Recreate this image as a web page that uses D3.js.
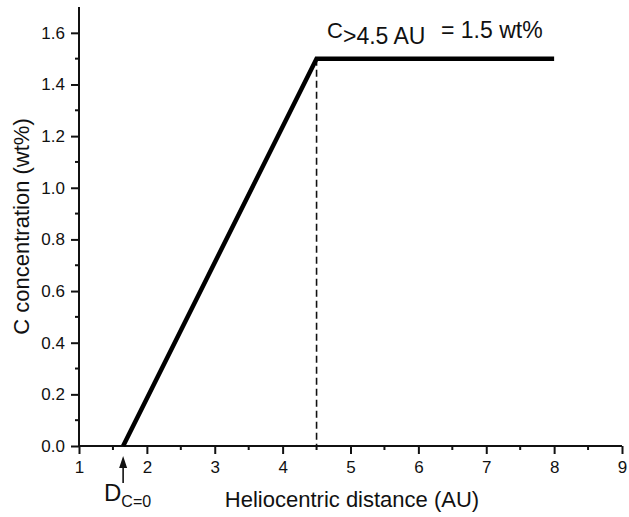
<!DOCTYPE html>
<html>
<head>
<meta charset="utf-8">
<script src="https://cdn.jsdelivr.net/npm/d3@7.9.0/dist/d3.min.js"></script>
<style>
  body { margin: 0; background: #fff; }
  svg text { font-family: "Liberation Sans", Arial, sans-serif; fill: #111; }
</style>
</head>
<body>
<svg id="chart" width="629" height="517"></svg>
<script>
// carbon concentration vs heliocentric distance
const distance = [1.65, 4.5, 8];
const concentration = [0, 1.5, 1.5];
const xTicks = [1, 2, 3, 4, 5, 6, 7, 8, 9];
const yTicks = [0, 0.2, 0.4, 0.6, 0.8, 1.0, 1.2, 1.4, 1.6];
const snowLine = 4.5;
const dZero = 1.65;

const svg = d3.select('#chart');
const margin = { left: 79, right: 6, top: 7, bottom: 71 };
const W = 629, H = 517;

let x = d3.scaleLinear().domain([1, 9]).range([margin.left, W - margin.right - 1]);
let y = d3.scaleLinear().domain([0, 1.7]).range([H - margin.bottom, margin.top]);

// minor ticks
let xMinor = d3.range(1.5, 9, 1);
let yMinor = d3.range(0.1, 1.7, 0.2);

let xAxis = svg.append('g').attr('transform', `translate(0,${y(0)})`)
    .call(d3.axisBottom(x).tickValues(xTicks).tickFormat(d3.format('d')).tickSize(8).tickPadding(7));
xAxis.append('g').selectAll('line').data(xMinor).join('line')
    .attr('x1', d => x(d)).attr('x2', d => x(d)).attr('y1', 0).attr('y2', 4)
    .attr('stroke', '#111').attr('stroke-width', 2);

let yAxis = svg.append('g').attr('transform', `translate(${x(1)},0)`)
    .call(d3.axisLeft(y).tickValues(yTicks).tickFormat(d3.format('.1f')).tickSize(8).tickPadding(6));
yAxis.append('g').selectAll('line').data(yMinor).join('line')
    .attr('y1', d => y(d)).attr('y2', d => y(d)).attr('x1', 0).attr('x2', -4)
    .attr('stroke', '#111').attr('stroke-width', 2);

[xAxis, yAxis].forEach(a => {
    a.select('.domain').attr('stroke', '#111').attr('stroke-width', 2);
    a.selectAll('.tick line').attr('stroke', '#111').attr('stroke-width', 2);
    a.selectAll('.tick text').attr('font-size', 17).attr('fill', '#111')
        .attr('font-family', '"Liberation Sans", Arial, sans-serif');
});
yAxis.select('.domain').attr('d', `M0,${y(0)}V${y(1.7)}`);
xAxis.select('.domain').attr('d', `M${x(1)},0H${x(9)}`);

// dashed drop line
svg.append('line')
    .attr('x1', x(snowLine)).attr('x2', x(snowLine))
    .attr('y1', y(1.5)).attr('y2', y(0))
    .attr('stroke', '#111').attr('stroke-width', 1.6)
    .attr('stroke-dasharray', '7,4');

// main curve
let line = d3.line().x((d, i) => x(distance[i])).y((d, i) => y(concentration[i]));
svg.append('path')
    .attr('d', line(distance))
    .attr('fill', 'none').attr('stroke', '#000')
    .attr('stroke-width', 4.5).attr('stroke-linejoin', 'miter');

// arrow at D_C=0
let ax = x(dZero);
svg.append('line')
    .attr('x1', ax).attr('x2', ax)
    .attr('y1', y(0) + 37).attr('y2', y(0) + 20)
    .attr('stroke', '#111').attr('stroke-width', 1.6);
svg.append('path')
    .attr('d', `M${ax},${y(0) + 10}L${ax - 4},${y(0) + 22}L${ax + 4},${y(0) + 22}Z`)
    .attr('fill', '#111');

let dLabel = svg.append('text').attr('x', 104).attr('y', 501).attr('font-size', 24);
dLabel.append('tspan').text('D');
dLabel.append('tspan').attr('dy', 6).attr('font-size', 16).text('C=0');

// annotation
let ann = svg.append('text').attr('y', 38).attr('font-size', 23);
ann.append('tspan').attr('x', 327).attr('font-size', 22).text('C');
ann.append('tspan').attr('x', 343).attr('dy', 6).text('>4.5 AU');
ann.append('tspan').attr('x', 441).attr('dy', -6).text('= 1.5 wt%');

// axis titles
svg.append('text').attr('x', 352).attr('y', 507).attr('text-anchor', 'middle')
    .attr('font-size', 22).text('Heliocentric distance (AU)');
svg.append('text').attr('transform', `translate(29,${y(0.85)}) rotate(-90)`)
    .attr('text-anchor', 'middle').attr('font-size', 22).text('C concentration (wt%)');
</script>
</body>
</html>
